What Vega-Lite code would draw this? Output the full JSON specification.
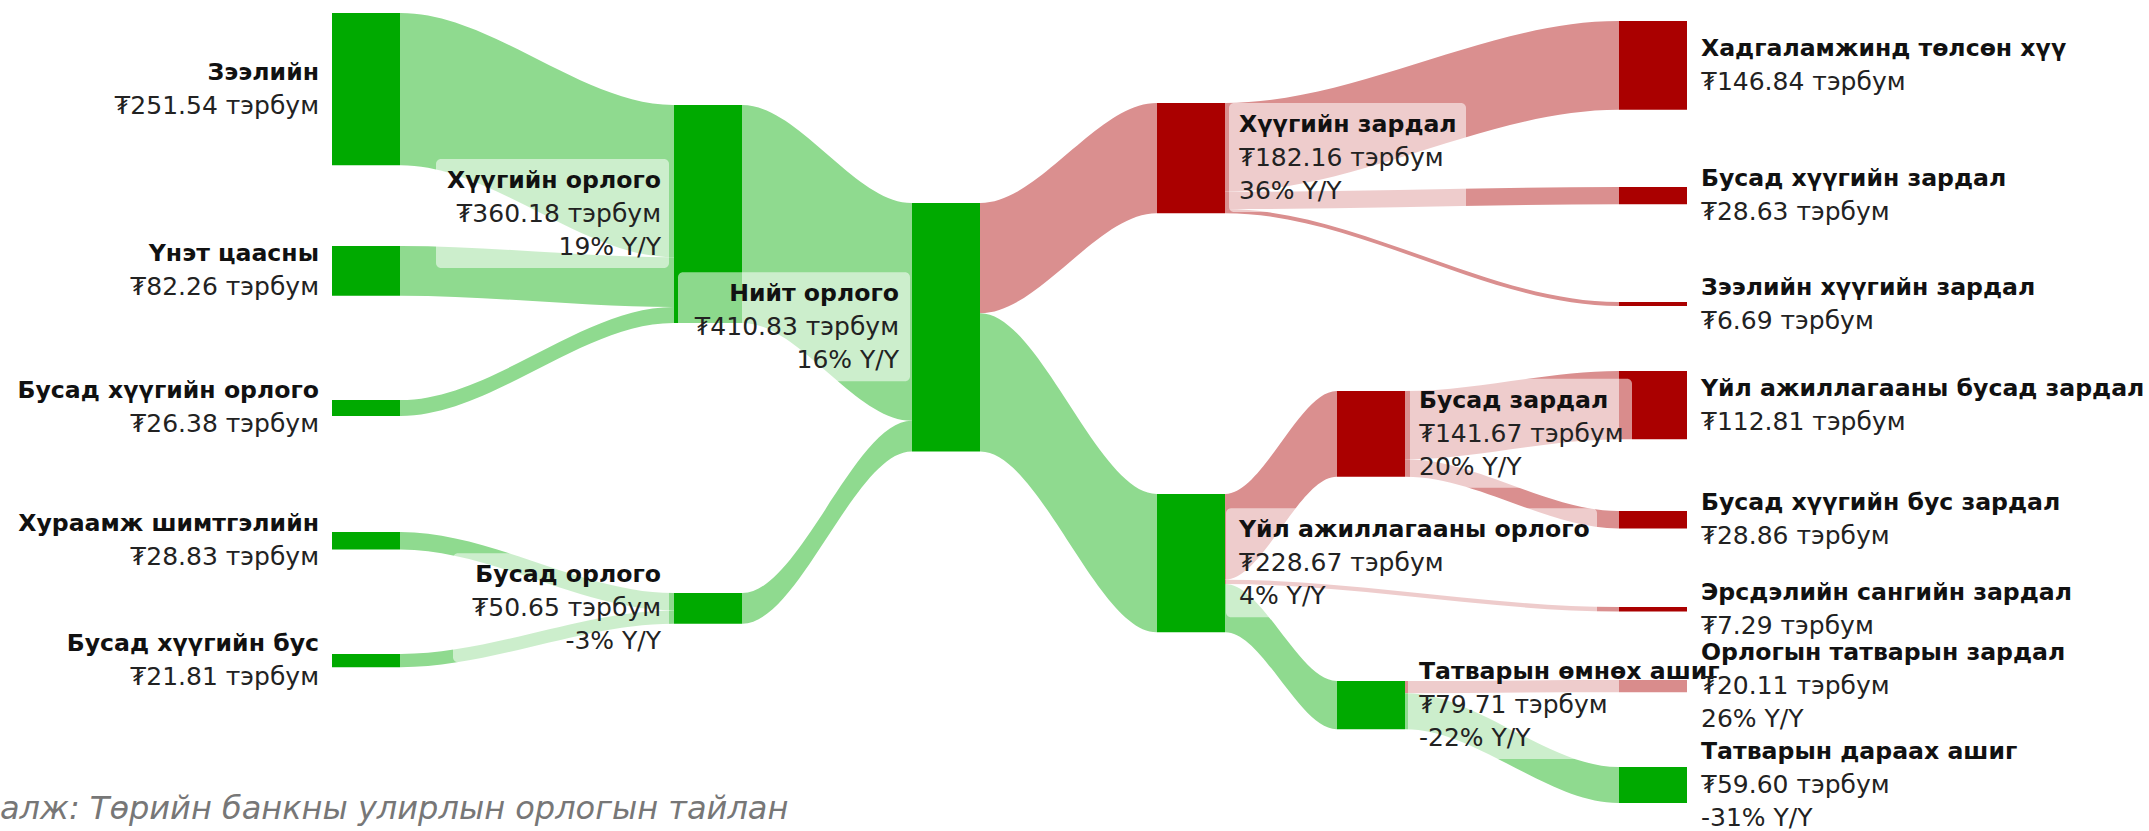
{
  "$schema": "https://vega.github.io/schema/vega-lite/v6.json",
  "width": 2149,
  "height": 831,
  "autosize": {"type": "none"},
  "padding": 0,
  "background": "#ffffff",
  "config": {"view": {"stroke": null}},
  "title": {
    "text": "алж: Төрийн банкны улирлын орлогын тайлан",
    "orient": "bottom",
    "anchor": "start",
    "frame": "group",
    "offset": -12,
    "baseline": "alphabetic",
    "dx": 0,
    "font": "DejaVu Sans",
    "fontStyle": "italic",
    "fontWeight": "normal",
    "fontSize": 32,
    "color": "#777777"
  },
  "datasets": {
    "nodes": [
      {"name": "Зээлийн", "depth": 0, "top": 21.5, "value": 251.54, "yoy": null, "kind": "income"},
      {"name": "Үнэт цаасны", "depth": 0, "top": 406.6, "value": 82.26, "yoy": null, "kind": "income"},
      {"name": "Бусад хүүгийн орлого", "depth": 0, "top": 661.2, "value": 26.38, "yoy": null, "kind": "income"},
      {"name": "Хураамж шимтгэлийн", "depth": 0, "top": 879.3, "value": 28.83, "yoy": null, "kind": "income"},
      {"name": "Бусад хүүгийн бус", "depth": 0, "top": 1081, "value": 21.81, "yoy": null, "kind": "income"},
      {"name": "Хүүгийн орлого", "depth": 1, "top": 173.6, "value": 360.18, "yoy": 19, "kind": "income"},
      {"name": "Бусад орлого", "depth": 1, "top": 980.2, "value": 50.65, "yoy": -3, "kind": "income"},
      {"name": "Нийт орлого", "depth": 2, "top": 335.5, "value": 410.83, "yoy": 16, "kind": "income"},
      {"name": "Хүүгийн зардал", "depth": 3, "top": 170.2, "value": 182.16, "yoy": 36, "kind": "expense"},
      {"name": "Үйл ажиллагааны орлого", "depth": 3, "top": 816.5, "value": 228.67, "yoy": 4, "kind": "income"},
      {"name": "Бусад зардал", "depth": 4, "top": 646.3, "value": 141.67, "yoy": 20, "kind": "expense"},
      {"name": "Татварын өмнөх ашиг", "depth": 4, "top": 1125.6, "value": 79.71, "yoy": -22, "kind": "income"},
      {"name": "Хадгаламжинд төлсөн хүү", "depth": 5, "top": 34.7, "value": 146.84, "yoy": null, "kind": "expense"},
      {"name": "Бусад хүүгийн зардал", "depth": 5, "top": 309.1, "value": 28.63, "yoy": null, "kind": "expense"},
      {"name": "Зээлийн хүүгийн зардал", "depth": 5, "top": 499.2, "value": 6.69, "yoy": null, "kind": "expense"},
      {"name": "Үйл ажиллагааны бусад зардал", "depth": 5, "top": 613.2, "value": 112.81, "yoy": null, "kind": "expense"},
      {"name": "Бусад хүүгийн бус зардал", "depth": 5, "top": 844.6, "value": 28.86, "yoy": null, "kind": "expense"},
      {"name": "Эрсдэлийн сангийн зардал", "depth": 5, "top": 1003.3, "value": 7.29, "yoy": null, "kind": "expense"},
      {"name": "Орлогын татварын зардал", "depth": 5, "top": 1124, "value": 20.11, "yoy": 26, "kind": "expense"},
      {"name": "Татварын дараах ашиг", "depth": 5, "top": 1267.8, "value": 59.6, "yoy": -31, "kind": "income"}
    ],
    "links": [
      {"source": "Зээлийн", "target": "Хүүгийн орлого", "value": 251.54},
      {"source": "Үнэт цаасны", "target": "Хүүгийн орлого", "value": 82.26},
      {"source": "Бусад хүүгийн орлого", "target": "Хүүгийн орлого", "value": 26.38},
      {"source": "Хураамж шимтгэлийн", "target": "Бусад орлого", "value": 28.83},
      {"source": "Бусад хүүгийн бус", "target": "Бусад орлого", "value": 21.81},
      {"source": "Хүүгийн орлого", "target": "Нийт орлого", "value": 360.18},
      {"source": "Бусад орлого", "target": "Нийт орлого", "value": 50.65},
      {"source": "Нийт орлого", "target": "Хүүгийн зардал", "value": 182.16},
      {"source": "Нийт орлого", "target": "Үйл ажиллагааны орлого", "value": 228.67},
      {"source": "Хүүгийн зардал", "target": "Хадгаламжинд төлсөн хүү", "value": 146.84},
      {"source": "Хүүгийн зардал", "target": "Бусад хүүгийн зардал", "value": 28.63},
      {"source": "Хүүгийн зардал", "target": "Зээлийн хүүгийн зардал", "value": 6.69},
      {"source": "Үйл ажиллагааны орлого", "target": "Бусад зардал", "value": 141.67},
      {"source": "Үйл ажиллагааны орлого", "target": "Эрсдэлийн сангийн зардал", "value": 7.29},
      {"source": "Үйл ажиллагааны орлого", "target": "Татварын өмнөх ашиг", "value": 79.71},
      {"source": "Бусад зардал", "target": "Үйл ажиллагааны бусад зардал", "value": 112.81},
      {"source": "Бусад зардал", "target": "Бусад хүүгийн бус зардал", "value": 28.86},
      {"source": "Татварын өмнөх ашиг", "target": "Орлогын татварын зардал", "value": 20.11},
      {"source": "Татварын өмнөх ашиг", "target": "Татварын дараах ашиг", "value": 59.6}
    ]
  },
  "layer": [
    {
      "data": {"name": "links"},
      "transform": [
        {"lookup": "source", "from": {"data": {"name": "nodes"}, "key": "name", "fields": ["depth", "top"]}, "as": ["sd", "st"]},
        {"lookup": "target", "from": {"data": {"name": "nodes"}, "key": "name", "fields": ["depth", "top", "kind"]}, "as": ["td", "tt", "tkind"]},
        {"window": [{"op": "sum", "field": "value", "as": "scum"}], "groupby": ["source"], "sort": [{"field": "tt", "order": "ascending"}], "frame": [null, 0]},
        {"window": [{"op": "sum", "field": "value", "as": "tcum"}], "groupby": ["target"], "sort": [{"field": "st", "order": "ascending"}], "frame": [null, 0]},
        {"calculate": "datum.source + '→' + datum.target", "as": "lid"},
        {"fold": ["source", "target"], "as": ["end", "endNode"]},
        {"fold": ["source", "target"], "as": ["dup", "dupNode"]},
        {"calculate": "datum.end === 'source' ? datum.sd + 0.25 + (datum.dup === 'target' ? 0.002 : 0) : datum.td - (datum.dup === 'source' ? 0.002 : 0)", "as": "px"},
        {"calculate": "datum.end === 'source' ? datum.st + datum.scum - datum.value : datum.tt + datum.tcum - datum.value", "as": "py0"},
        {"calculate": "datum.py0 + datum.value", "as": "py1"}
      ],
      "mark": {"type": "area", "interpolate": "monotone", "strokeWidth": 0},
      "encoding": {
        "x": {"field": "px", "type": "quantitative", "axis": null,
              "scale": {"domain": [0, 0.25, 1, 1.25, 2, 2.25, 3, 3.25, 4, 4.25, 5, 5.25], "range": [332, 400, 674, 742, 912, 980, 1157, 1225, 1337, 1405, 1619, 1687], "zero": false, "nice": false}},
        "y": {"field": "py0", "type": "quantitative", "axis": null,
              "scale": {"domain": [0, 1373.6], "reverse": true, "zero": false, "nice": false}},
        "y2": {"field": "py1"},
        "detail": {"field": "lid", "type": "nominal"},
        "color": {"condition": {"test": "datum.tkind === 'income'", "value": "#8fda8f"}, "value": "#da8f8f"}
      }
    },
    {
      "data": {"name": "nodes"},
      "transform": [
        {"calculate": "datum.top + datum.value", "as": "bottom"},
        {"calculate": "datum.top + datum.value / 2", "as": "mid"},
        {"calculate": "'₮' + format(datum.value, '.2f') + ' тэрбум'", "as": "amount"},
        {"calculate": "isValid(datum.yoy) ? [datum.amount, datum.yoy + '% Y/Y'] : [datum.amount]", "as": "infoLines"}
      ],
      "encoding": {
        "x": {"field": "depth", "type": "quantitative", "axis": null,
              "scale": {"domain": [0, 0.25, 1, 1.25, 2, 2.25, 3, 3.25, 4, 4.25, 5, 5.25], "range": [332, 400, 674, 742, 912, 980, 1157, 1225, 1337, 1405, 1619, 1687], "zero": false, "nice": false}},
        "y": {"field": "mid", "type": "quantitative", "axis": null, "scale": {"domain": [0, 1373.6], "reverse": true, "zero": false, "nice": false}}
      },
      "layer": [
        {
          "mark": {"type": "rect", "x2Offset": 68},
          "encoding": {
            "x2": {"field": "depth"},
            "y": {"field": "top", "type": "quantitative", "axis": null,
                  "scale": {"domain": [0, 1373.6], "reverse": true, "zero": false, "nice": false}},
            "y2": {"field": "bottom"},
            "color": {"condition": {"test": "datum.kind === 'income'", "value": "#00aa00"}, "value": "#aa0000"}
          }
        },
        {
          "transform": [{"filter": "datum.name === 'Хүүгийн орлого'"}],
          "mark": {"type": "rect", "fill": "#ffffff", "fillOpacity": 0.55, "cornerRadius": 5, "xOffset": -238, "x2Offset": -5, "yOffset": -55, "y2Offset": 54},
          "encoding": {"x2": {"field": "depth"}, "y2": {"field": "mid"}}
        },
        {
          "transform": [{"filter": "datum.name === 'Бусад орлого'"}],
          "mark": {"type": "rect", "fill": "#ffffff", "fillOpacity": 0.55, "cornerRadius": 5, "xOffset": -221, "x2Offset": -5, "yOffset": -55, "y2Offset": 54},
          "encoding": {"x2": {"field": "depth"}, "y2": {"field": "mid"}}
        },
        {
          "transform": [{"filter": "datum.name === 'Нийт орлого'"}],
          "mark": {"type": "rect", "fill": "#ffffff", "fillOpacity": 0.55, "cornerRadius": 5, "xOffset": -234, "x2Offset": -2, "yOffset": -55, "y2Offset": 54},
          "encoding": {"x2": {"field": "depth"}, "y2": {"field": "mid"}}
        },
        {
          "transform": [{"filter": "datum.name === 'Хүүгийн зардал'"}],
          "mark": {"type": "rect", "fill": "#ffffff", "fillOpacity": 0.55, "cornerRadius": 5, "xOffset": 72, "x2Offset": 309, "yOffset": -55, "y2Offset": 54},
          "encoding": {"x2": {"field": "depth"}, "y2": {"field": "mid"}}
        },
        {
          "transform": [{"filter": "datum.name === 'Үйл ажиллагааны орлого'"}],
          "mark": {"type": "rect", "fill": "#ffffff", "fillOpacity": 0.55, "cornerRadius": 5, "xOffset": 69, "x2Offset": 440, "yOffset": -55, "y2Offset": 54},
          "encoding": {"x2": {"field": "depth"}, "y2": {"field": "mid"}}
        },
        {
          "transform": [{"filter": "datum.name === 'Бусад зардал'"}],
          "mark": {"type": "rect", "fill": "#ffffff", "fillOpacity": 0.55, "cornerRadius": 5, "xOffset": 73, "x2Offset": 295, "yOffset": -55, "y2Offset": 54},
          "encoding": {"x2": {"field": "depth"}, "y2": {"field": "mid"}}
        },
        {
          "transform": [{"filter": "datum.name === 'Татварын өмнөх ашиг'"}],
          "mark": {"type": "rect", "fill": "#ffffff", "fillOpacity": 0.55, "cornerRadius": 5, "xOffset": 71, "x2Offset": 395, "yOffset": -55, "y2Offset": 54},
          "encoding": {"x2": {"field": "depth"}, "y2": {"field": "mid"}}
        },
        {
          "transform": [{"filter": "datum.depth <= 2 && isValid(datum.yoy)"}],
          "mark": {"type": "text", "align": "right", "baseline": "middle", "dx": -13, "dy": -33, "font": "DejaVu Sans", "fontSize": 23.6, "fontWeight": "bold", "color": "#111111"},
          "encoding": {"text": {"field": "name"}}
        },
        {
          "transform": [{"filter": "datum.depth <= 2 && !isValid(datum.yoy)"}],
          "mark": {"type": "text", "align": "right", "baseline": "middle", "dx": -13, "dy": -16.5, "font": "DejaVu Sans", "fontSize": 23.6, "fontWeight": "bold", "color": "#111111"},
          "encoding": {"text": {"field": "name"}}
        },
        {
          "transform": [{"filter": "datum.depth <= 2 && isValid(datum.yoy)"}],
          "mark": {"type": "text", "align": "right", "baseline": "middle", "dx": -13, "dy": 0, "font": "DejaVu Sans", "fontSize": 25, "fontWeight": "normal", "lineHeight": 33, "color": "#222222"},
          "encoding": {"text": {"field": "infoLines"}}
        },
        {
          "transform": [{"filter": "datum.depth <= 2 && !isValid(datum.yoy)"}],
          "mark": {"type": "text", "align": "right", "baseline": "middle", "dx": -13, "dy": 16.5, "font": "DejaVu Sans", "fontSize": 25, "fontWeight": "normal", "color": "#222222"},
          "encoding": {"text": {"field": "amount"}}
        },
        {
          "transform": [{"filter": "datum.depth >= 3 && isValid(datum.yoy)"}],
          "mark": {"type": "text", "align": "left", "baseline": "middle", "dx": 82, "dy": -33, "font": "DejaVu Sans", "fontSize": 23.6, "fontWeight": "bold", "color": "#111111"},
          "encoding": {"text": {"field": "name"}}
        },
        {
          "transform": [{"filter": "datum.depth >= 3 && !isValid(datum.yoy)"}],
          "mark": {"type": "text", "align": "left", "baseline": "middle", "dx": 82, "dy": -16.5, "font": "DejaVu Sans", "fontSize": 23.6, "fontWeight": "bold", "color": "#111111"},
          "encoding": {"text": {"field": "name"}}
        },
        {
          "transform": [{"filter": "datum.depth >= 3 && isValid(datum.yoy)"}],
          "mark": {"type": "text", "align": "left", "baseline": "middle", "dx": 82, "dy": 0, "font": "DejaVu Sans", "fontSize": 25, "fontWeight": "normal", "lineHeight": 33, "color": "#222222"},
          "encoding": {"text": {"field": "infoLines"}}
        },
        {
          "transform": [{"filter": "datum.depth >= 3 && !isValid(datum.yoy)"}],
          "mark": {"type": "text", "align": "left", "baseline": "middle", "dx": 82, "dy": 16.5, "font": "DejaVu Sans", "fontSize": 25, "fontWeight": "normal", "color": "#222222"},
          "encoding": {"text": {"field": "amount"}}
        }
      ]
    }
  ]
}
